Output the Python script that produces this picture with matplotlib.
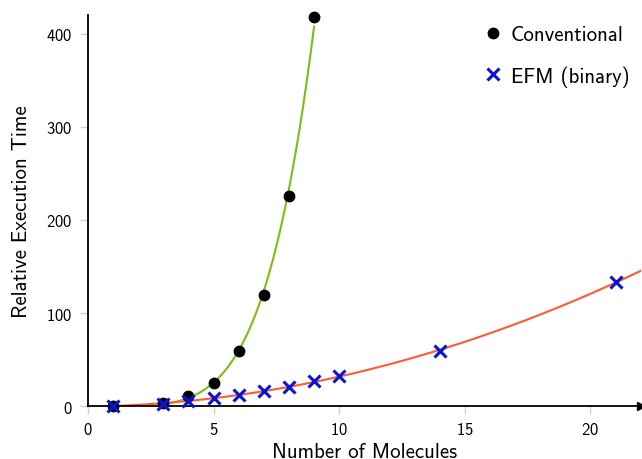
import numpy as np
import matplotlib
matplotlib.use("Agg")
import matplotlib.pyplot as plt

plt.rcParams["font.family"] = ["cmss10", "DejaVu Sans"]
plt.rcParams["axes.formatter.use_mathtext"] = True

# Conventional method
conv_n = [1, 3, 4, 5, 6, 7, 8, 9]
conv_t = [0.5, 3, 10.7, 24.7, 59, 119, 226, 418]

# EFM (binary)
efm_n = [1, 3, 4, 5, 6, 7, 8, 9, 10, 14, 21]
efm_t = [0.3, 2.5, 5.5, 8.5, 11.8, 16, 21, 27, 32, 59, 133]

# fitted trend lines (power law for conventional, quadratic for EFM)
cn = np.array(conv_n[1:], dtype=float)
ct = np.array(conv_t[1:], dtype=float)
p_conv = np.polyfit(np.log(cn), np.log(ct), 1, w=np.sqrt(ct))
xc = np.linspace(3, 9, 200)
yc = np.exp(np.polyval(p_conv, np.log(xc)))

p_efm = np.polyfit(efm_n, efm_t, 2)
xe = np.linspace(1, 22, 200)
ye = np.polyval(p_efm, xe)

fig = plt.figure(figsize=(6.42, 4.6), dpi=100)
ax = fig.add_axes([0.137, 0.115, 0.861, 0.85])

ax.plot(xc, yc, color="#7cbd16", lw=1.5, zorder=2)
ax.plot(xe, ye, color="#ff5a36", lw=1.5, zorder=2)
ax.plot(conv_n, conv_t, "o", color="black", ms=7.5, ls="none",
        label="Conventional", clip_on=False, zorder=3)
ax.plot(efm_n, efm_t, "x", color="#0a14d2", ms=9, mew=2.2, ls="none",
        label="EFM (binary)", clip_on=False, zorder=4)

ax.set_xlim(0, 22)
ax.set_ylim(0, 420)
ax.set_xticks([0, 5, 10, 15, 20])
ax.set_yticks([0, 100, 200, 300, 400])
ax.spines["top"].set_visible(False)
ax.spines["right"].set_visible(False)
ax.spines["left"].set_linewidth(1.3)
ax.spines["bottom"].set_linewidth(1.3)
ax.tick_params(axis="both", direction="out", length=6, width=1, color="#d0d0d0",
               labelsize=12, pad=5)
ax.plot(1, 0, ">", color="black", ms=6, transform=ax.transAxes, clip_on=False)

ax.set_xlabel("Number of Molecules", fontsize=15, labelpad=3)
ax.set_ylabel("Relative Execution Time", fontsize=15, labelpad=11)

ax.legend(loc="upper right", frameon=False, fontsize=15, handletextpad=0.25,
          handlelength=1.2, labelspacing=1.0, borderaxespad=0.0,
          bbox_to_anchor=(0.995, 0.995))

fig.savefig("out.png")
